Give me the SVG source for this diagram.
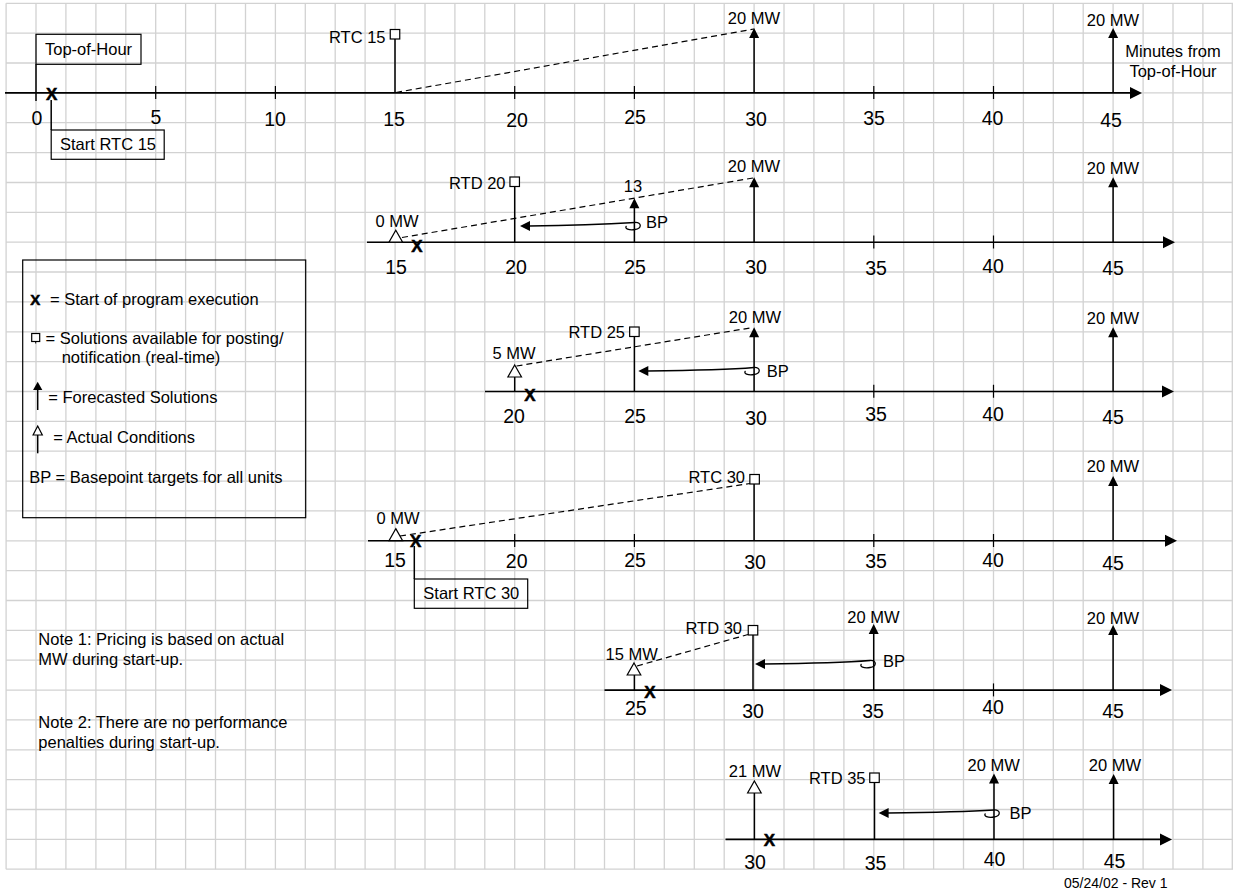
<svg xmlns="http://www.w3.org/2000/svg" xmlns:xlink="http://www.w3.org/1999/xlink" width="1233" height="892" viewBox="0 0 1233 892">
<style>
text{font-family:"Liberation Sans",Arial,sans-serif;font-size:16.5px;fill:#000}
.num{font-size:19.5px;text-anchor:middle}
.mid{text-anchor:middle}
.end{text-anchor:end}
.x{font-weight:bold;font-size:17px;text-anchor:middle;stroke:#000;stroke-width:0.5}
.grid{stroke:#d2d2d2;stroke-width:1.3;fill:none}
.ax{stroke:#000;stroke-width:1.6;fill:none}
.ln{stroke:#000;stroke-width:1.5;fill:none}
.tk{stroke:#000;stroke-width:1.2}
.open{fill:#fff;stroke:#000;stroke-width:1.2}
.box{fill:none;stroke:#000;stroke-width:1.2}
.dash{stroke:#000;stroke-width:1.2;stroke-dasharray:6 4;fill:none}
.bp{stroke:#000;stroke-width:1.3;fill:none}
.fill{fill:#000}
</style>
<defs>
<path id="ah" class="fill" d="M0,0 L5,10 L-5,10 Z"/>
<path id="tri" class="open" d="M0,0 L6.8,12 L-6.8,12 Z"/>
<rect id="sq" class="open" x="-4.75" y="-9.5" width="9.5" height="9.5"/>
<path id="axh" class="fill" d="M0,0 L-12,-6 L-12,6 Z"/>
<path id="bph" class="fill" d="M0,0 L10,-5 L10,5 Z"/>
</defs>
<rect width="1233" height="892" fill="#fff"/>
<g id="grid">
<path class="grid" d="M6.1,3.3V869.2M36,3.3V869.2M65.9,3.3V869.2M95.9,3.3V869.2M125.8,3.3V869.2M155.7,3.3V869.2M185.6,3.3V869.2M215.5,3.3V869.2M245.5,3.3V869.2M275.4,3.3V869.2M305.3,3.3V869.2M335.2,3.3V869.2M365.1,3.3V869.2M395.1,3.3V869.2M425,3.3V869.2M454.9,3.3V869.2M484.8,3.3V869.2M514.7,3.3V869.2M544.7,3.3V869.2M574.6,3.3V869.2M604.5,3.3V869.2M634.4,3.3V869.2M664.3,3.3V869.2M694.3,3.3V869.2M724.2,3.3V869.2M754.1,3.3V869.2M784,3.3V869.2M813.9,3.3V869.2M843.9,3.3V869.2M873.8,3.3V869.2M903.7,3.3V869.2M933.6,3.3V869.2M963.5,3.3V869.2M993.5,3.3V869.2M1023.4,3.3V869.2M1053.3,3.3V869.2M1083.2,3.3V869.2M1113.1,3.3V869.2M1143.1,3.3V869.2M1173,3.3V869.2M1202.9,3.3V869.2M1232.3,3.3V869.2"/>
<path class="grid" d="M6.1,3.3H1233M6.1,33.2H1233M6.1,63H1233M6.1,92.9H1233M6.1,122.7H1233M6.1,152.6H1233M6.1,182.5H1233M6.1,212.3H1233M6.1,242.2H1233M6.1,272H1233M6.1,301.9H1233M6.1,331.8H1233M6.1,361.6H1233M6.1,391.5H1233M6.1,421.3H1233M6.1,451.2H1233M6.1,481.1H1233M6.1,510.9H1233M6.1,540.8H1233M6.1,570.6H1233M6.1,600.5H1233M6.1,630.4H1233M6.1,660.2H1233M6.1,690.1H1233M6.1,719.9H1233M6.1,749.8H1233M6.1,779.7H1233M6.1,809.5H1233M6.1,839.4H1233M6.1,869.2H1233"/>
</g>

<g id="timeline-rtc15">
<line class="ax" x1="5" y1="92.9" x2="1131" y2="92.9"/>
<use xlink:href="#axh" x="1142" y="92.9"/>
<path class="tk" d="M155.7,86V99M275.4,86V99M514.7,86V99M634.4,86V99M873.8,86V99M993.5,86V99"/>
<text class="num" x="37" y="125">0</text>
<text class="num" x="156" y="123.5">5</text>
<text class="num" x="275" y="126">10</text>
<text class="num" x="394" y="126">15</text>
<text class="num" x="517" y="126.5">20</text>
<text class="num" x="635" y="124">25</text>
<text class="num" x="756" y="126">30</text>
<text class="num" x="874" y="125">35</text>
<text class="num" x="992.5" y="125">40</text>
<text class="num" x="1111" y="126.5">45</text>
<g id="top-of-hour">
<line class="ln" x1="36" y1="64.3" x2="36" y2="101"/>
<rect class="box" x="36" y="34.3" width="105" height="30"/>
<text x="45" y="55">Top-of-Hour</text>
</g>
<text class="x" x="51.7" y="100">X</text>
<g id="start-rtc15">
<line class="ln" x1="51.2" y1="100" x2="51.2" y2="130"/>
<rect class="box" x="51.2" y="130" width="113" height="29.3"/>
<text x="60" y="150">Start RTC 15</text>
</g>
<line class="ln" x1="395" y1="92.9" x2="395" y2="39"/>
<use xlink:href="#sq" x="395" y="39"/>
<text class="end" x="385.5" y="42.5">RTC 15</text>
<line class="ln" x1="754.1" y1="92.9" x2="754.1" y2="37"/>
<use xlink:href="#ah" x="754.1" y="28"/>
<text class="mid" x="754" y="24">20 MW</text>
<line class="ln" x1="1113.1" y1="92.9" x2="1113.1" y2="37"/>
<use xlink:href="#ah" x="1113.1" y="28"/>
<text class="mid" x="1113" y="26">20 MW</text>
<text class="mid" x="1173" y="57.3">Minutes from</text>
<text class="mid" x="1173" y="77.3">Top-of-Hour</text>
</g>

<g id="timeline-rtd20">
<line class="ax" x1="367" y1="242.2" x2="1164" y2="242.2"/>
<use xlink:href="#axh" x="1175" y="242.2"/>
<path class="tk" d="M873.8,235.5V248.5M993.5,235.5V248.5"/>
<text class="num" x="396" y="274">15</text>
<text class="num" x="516" y="274">20</text>
<text class="num" x="635" y="274">25</text>
<text class="num" x="756" y="273.5">30</text>
<text class="num" x="876" y="275">35</text>
<text class="num" x="993" y="273">40</text>
<text class="num" x="1113" y="275">45</text>
<use xlink:href="#tri" x="395.8" y="230.2"/>
<text class="mid" x="397" y="226.7">0 MW</text>
<text class="x" x="417" y="251.5">X</text>
<line class="ln" x1="514.7" y1="242.2" x2="514.7" y2="186.5"/>
<use xlink:href="#sq" x="514.7" y="186.5"/>
<text class="end" x="505.5" y="189.3">RTD 20</text>
<line class="ln" x1="634.4" y1="242.2" x2="634.4" y2="207"/>
<use xlink:href="#ah" x="634.4" y="198.3"/>
<text class="mid" x="633" y="191.7">13</text>
<line class="ln" x1="754.1" y1="242.2" x2="754.1" y2="186"/>
<use xlink:href="#ah" x="754.1" y="177.3"/>
<text class="mid" x="754" y="171.7">20 MW</text>
<line class="ln" x1="1113.1" y1="242.2" x2="1113.1" y2="186"/>
<use xlink:href="#ah" x="1113.1" y="177.3"/>
<text class="mid" x="1113" y="174">20 MW</text>
<text x="646" y="228.3">BP</text>
</g>

<g id="timeline-rtd25">
<line class="ax" x1="485" y1="391.5" x2="1163" y2="391.5"/>
<use xlink:href="#axh" x="1174" y="391.5"/>
<path class="tk" d="M873.8,384.8V397.8M993.5,384.8V397.8"/>
<text class="num" x="514" y="422.5">20</text>
<text class="num" x="635" y="423">25</text>
<text class="num" x="756" y="424.5">30</text>
<text class="num" x="876" y="421">35</text>
<text class="num" x="993" y="421">40</text>
<text class="num" x="1113" y="423.5">45</text>
<line class="ln" x1="514.7" y1="391.5" x2="514.7" y2="377"/>
<use xlink:href="#tri" x="514.7" y="365"/>
<text class="mid" x="514" y="359.3">5 MW</text>
<text class="x" x="530" y="400.5">X</text>
<line class="ln" x1="634.4" y1="391.5" x2="634.4" y2="336.5"/>
<use xlink:href="#sq" x="634.4" y="336.5"/>
<text class="end" x="625" y="337.7">RTD 25</text>
<line class="ln" x1="754.1" y1="391.5" x2="754.1" y2="336"/>
<use xlink:href="#ah" x="754.1" y="327.3"/>
<text class="mid" x="755" y="322.7">20 MW</text>
<line class="ln" x1="1113.1" y1="391.5" x2="1113.1" y2="336"/>
<use xlink:href="#ah" x="1113.1" y="327.3"/>
<text class="mid" x="1113" y="323.5">20 MW</text>
<text x="766.7" y="376.7">BP</text>
</g>

<g id="timeline-rtc30">
<line class="ax" x1="368" y1="540.8" x2="1166" y2="540.8"/>
<use xlink:href="#axh" x="1177" y="540.8"/>
<path class="tk" d="M514.7,534V547M634.4,534V547M873.8,534V547M993.5,534V547"/>
<text class="num" x="395" y="567">15</text>
<text class="num" x="516.7" y="567.5">20</text>
<text class="num" x="635" y="567">25</text>
<text class="num" x="755" y="568.5">30</text>
<text class="num" x="876" y="568">35</text>
<text class="num" x="993" y="567">40</text>
<text class="num" x="1113" y="570">45</text>
<use xlink:href="#tri" x="395.8" y="528.6"/>
<text class="mid" x="398" y="524.3">0 MW</text>
<text class="x" x="415.7" y="546.8">X</text>
<g id="start-rtc30">
<line class="ln" x1="414.3" y1="546" x2="414.3" y2="579"/>
<rect class="box" x="414.3" y="579" width="113.4" height="29.3"/>
<text x="423.3" y="599.3">Start RTC 30</text>
</g>
<line class="ln" x1="754.1" y1="540.8" x2="754.1" y2="484"/>
<use xlink:href="#sq" x="754.6" y="484"/>
<text class="end" x="745" y="483.3">RTC 30</text>
<line class="ln" x1="1113.1" y1="540.8" x2="1113.1" y2="485"/>
<use xlink:href="#ah" x="1113.1" y="476"/>
<text class="mid" x="1113" y="472">20 MW</text>
</g>

<g id="timeline-rtd30">
<line class="ax" x1="604.5" y1="690.1" x2="1161" y2="690.1"/>
<use xlink:href="#axh" x="1172" y="690.1"/>
<path class="tk" d="M993.5,683.4V696.4"/>
<text class="num" x="635.8" y="715">25</text>
<text class="num" x="753" y="718">30</text>
<text class="num" x="873" y="718">35</text>
<text class="num" x="993" y="714">40</text>
<text class="num" x="1113" y="718">45</text>
<line class="ln" x1="634.4" y1="690.1" x2="634.4" y2="675"/>
<use xlink:href="#tri" x="634" y="663"/>
<text class="mid" x="631.7" y="660">15 MW</text>
<text class="x" x="650" y="697.7">X</text>
<line class="ln" x1="753" y1="690.1" x2="753" y2="635"/>
<use xlink:href="#sq" x="753" y="635"/>
<text class="end" x="742" y="634.3">RTD 30</text>
<line class="ln" x1="873.7" y1="690.1" x2="873.7" y2="633"/>
<use xlink:href="#ah" x="873.7" y="624"/>
<text class="mid" x="873.5" y="623.3">20 MW</text>
<line class="ln" x1="1113.1" y1="690.1" x2="1113.1" y2="634"/>
<use xlink:href="#ah" x="1113.1" y="625"/>
<text class="mid" x="1113" y="623.5">20 MW</text>
<text x="883" y="667.3">BP</text>
</g>

<g id="timeline-rtd35">
<line class="ax" x1="725.5" y1="839.4" x2="1161" y2="839.4"/>
<use xlink:href="#axh" x="1172" y="839.4"/>
<text class="num" x="755" y="869">30</text>
<text class="num" x="875.5" y="870">35</text>
<text class="num" x="994.5" y="866">40</text>
<text class="num" x="1114.5" y="867.5">45</text>
<line class="ln" x1="754.4" y1="839.4" x2="754.4" y2="793"/>
<use xlink:href="#tri" x="754.4" y="781"/>
<text class="mid" x="755" y="777.4">21 MW</text>
<text class="x" x="769.5" y="846">X</text>
<line class="ln" x1="874.5" y1="839.4" x2="874.5" y2="782.5"/>
<use xlink:href="#sq" x="874.5" y="782.5"/>
<text class="end" x="865.5" y="783.5">RTD 35</text>
<line class="ln" x1="994" y1="839.4" x2="994" y2="782.5"/>
<use xlink:href="#ah" x="994" y="773.5"/>
<text class="mid" x="993.7" y="770.7">20 MW</text>
<line class="ln" x1="1113.6" y1="839.4" x2="1113.6" y2="783"/>
<use xlink:href="#ah" x="1113.6" y="774"/>
<text class="mid" x="1115" y="771.3">20 MW</text>
<text x="1009.5" y="818.9">BP</text>
</g>

<g id="connectors">
<line class="dash" x1="396" y1="92.5" x2="754" y2="29"/>
<line class="dash" x1="402" y1="237.5" x2="753" y2="178"/>
<line class="dash" x1="516.5" y1="366" x2="753" y2="327.5"/>
<line class="dash" x1="400" y1="536" x2="750" y2="483.5"/>
<line class="dash" x1="637" y1="666" x2="748" y2="634.5"/>
<path class="bp" d="M529,226 C570,225.5 610,224 635,222.5 C642,222 642,228.5 635,229.5 C629,230.5 624,228.5 626.5,226"/>
<use xlink:href="#bph" x="520" y="226"/>
<path class="bp" d="M647.5,371 C690,370.5 730,369.5 754,367.5 C761,367 761,373.5 754,374.5 C748,375.5 743,373.5 745.5,371"/>
<use xlink:href="#bph" x="638.3" y="371"/>
<path class="bp" d="M764,664 C805,663.5 845,662.5 870,660.5 C877,660 877,666.5 870,667.5 C864,668.5 859,666.5 861.5,664"/>
<use xlink:href="#bph" x="755" y="664"/>
<path class="bp" d="M888,813 C930,812.5 970,811.5 994,810 C1001,809.5 1001,816 994,817 C988,818 983,816 985.5,813.5"/>
<use xlink:href="#bph" x="878.6" y="813"/>
</g>

<g id="legend">
<rect class="box" x="22.7" y="260" width="283" height="257.7"/>
<text class="x" x="35.3" y="305" style="font-size:15px">X</text>
<text x="50" y="305">= Start of program execution</text>
<rect class="open" x="31.7" y="333.5" width="8" height="8"/>
<line class="ln" x1="35.7" y1="341.5" x2="35.7" y2="343.5" style="stroke-width:1"/>
<text x="45.5" y="344">= Solutions available for posting/</text>
<text x="61.7" y="363.3">notification (real-time)</text>
<line class="ln" x1="37.7" y1="410" x2="37.7" y2="389"/>
<path class="fill" d="M37.7,381.7 L42.3,390 L33.1,390 Z"/>
<text x="48.3" y="403.3">= Forecasted Solutions</text>
<line class="ln" x1="37.7" y1="453.3" x2="37.7" y2="435"/>
<path class="open" d="M37.7,426 L42.3,435 L33.1,435 Z"/>
<text x="53.3" y="443.3">= Actual Conditions</text>
<text x="29.3" y="483.3">BP = Basepoint targets for all units</text>
</g>

<g id="notes">
<text x="38.3" y="645">Note 1: Pricing is based on actual</text>
<text x="38.3" y="664.5">MW during start-up.</text>
<text x="38.3" y="728.3">Note 2: There are no performance</text>
<text x="38.3" y="748">penalties during start-up.</text>
</g>
<text x="1064" y="887.5" style="font-size:14px">05/24/02 - Rev 1</text>
</svg>
